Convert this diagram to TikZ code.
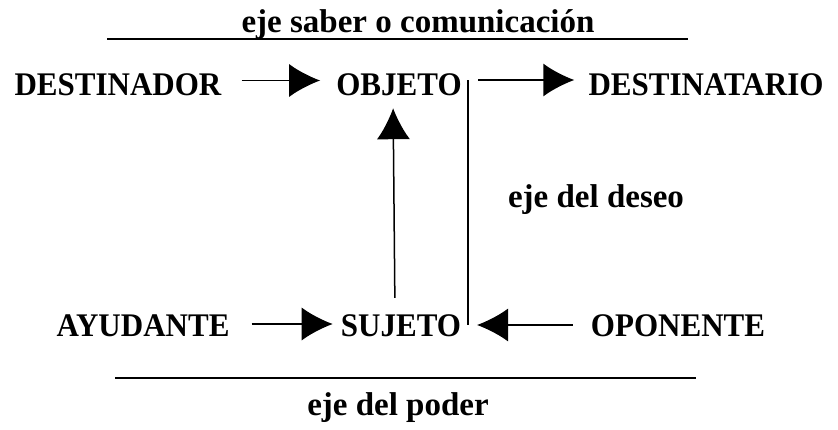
\documentclass[tikz,border=0pt]{standalone}
\usepackage{fontspec}
\setmainfont{Liberation Serif}
\newfontfamily\capsfont[FakeStretch=0.94]{Liberation Serif}
\usetikzlibrary{arrows.meta, positioning}

\begin{document}
\begin{tikzpicture}[x=1pt, y=-1pt,
  lab/.style={font=\fontsize{33}{38}\selectfont\bfseries, inner sep=0pt, text height=22pt, text depth=0pt, anchor=base},
  actant/.style={lab, font=\fontsize{33}{38}\selectfont\capsfont\bfseries},
  arr/.style={line width=1.5pt, -{Latex[length=31pt, width=33pt]}},
  axis/.style={line width=2.6pt}
]
\useasboundingbox (0,0) rectangle (838,429);

\node[lab] (saber) at (418,32) {eje saber o comunicación};
\node[actant] (destinador) at (118,95) {DESTINADOR};
\node[actant] (objeto) at (399,95) {OBJETO};
\node[actant] (destinatario) at (706,95) {DESTINATARIO};
\node[lab] (deseo) at (596,207) {eje del deseo};
\node[actant] (ayudante) at (143,336) {AYUDANTE};
\node[actant] (sujeto) at (401,336) {SUJETO};
\node[actant] (oponente) at (678,336) {OPONENTE};
\node[lab] (poder) at (398,415) {eje del poder};

% ejes
\coordinate (saberL) at (107,39);
\coordinate (saberR) at (688,39);
\coordinate (poderL) at (115,378);
\coordinate (poderR) at (696,378);
\draw[axis] (saberL) -- (saberR);
\draw[axis] (poderL) -- (poderR);

\coordinate (deseoT) at (468,80);
\coordinate (deseoB) at (468,325);
\draw[line width=1.4pt] (deseoT) -- (deseoB);

\draw[arr, shorten <=20pt, shorten >=16pt] ([yshift=3.5pt]destinador.east) -- ([yshift=3.5pt]objeto.west);
\draw[arr, shorten <=10pt, shorten >=14pt] (deseoT) -- (destinatario.west |- deseoT);
\draw[arr, shorten <=22pt, shorten >=8pt] ([yshift=1pt]ayudante.east) -- ([yshift=1pt]sujeto.west);
\draw[arr, shorten <=18pt, shorten >=9pt] (oponente.west |- deseoB) -- (deseoB);
\draw[arr, shorten <=16pt, shorten >=13pt] ([xshift=-6pt]sujeto.north) -- ([xshift=-6pt]objeto.south);
\end{tikzpicture}
\end{document}
